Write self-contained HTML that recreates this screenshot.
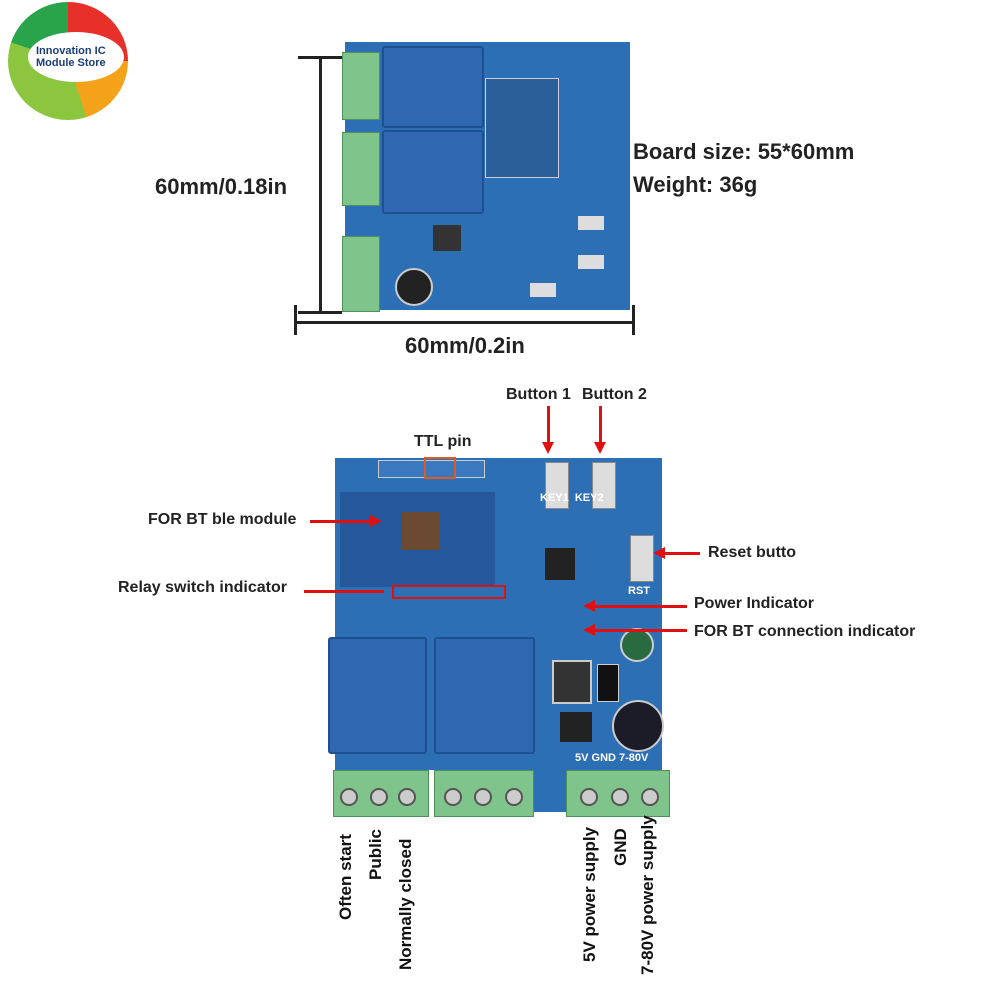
<!DOCTYPE html><html><head><style>
body{margin:0;width:1000px;height:1000px;background:#fff;position:relative;overflow:hidden;font-family:"Liberation Sans",sans-serif}
.a{position:absolute}
.t{position:absolute;font-weight:bold;color:#222;white-space:nowrap}
.blue{background:#2d6fb5}
.relay{position:absolute;background:#2f67b0;border:2px solid #1e4f8e;border-radius:3px;color:#dde;font-size:9px}
.term{position:absolute;background:#7fc48a;border:1px solid #4f8f5a}
.scr{position:absolute;width:18px;height:18px;border-radius:50%;background:#ccc;border:2px solid #555;box-sizing:border-box}
.rot{position:absolute;transform:rotate(-90deg);transform-origin:left top;font-weight:bold;font-size:17px;color:#111;white-space:nowrap}
.ar{position:absolute;background:#e01010}
.hd{position:absolute;width:0;height:0}
.dn{border-left:6px solid transparent;border-right:6px solid transparent;border-top:12px solid #e01010}
.rt{border-top:6px solid transparent;border-bottom:6px solid transparent;border-left:12px solid #e01010}
.lt{border-top:6px solid transparent;border-bottom:6px solid transparent;border-right:12px solid #e01010}
</style></head><body>
<!-- logo -->
<div class="a" style="left:8px;top:2px;width:120px;height:118px;border-radius:50%;background:conic-gradient(#e8302a 0 25%,#f3a21a 25% 45%,#8cc63f 45% 80%,#2aa44a 80% 100%)"></div>
<div class="a" style="left:28px;top:32px;width:96px;height:50px;border-radius:50%;background:#fff"></div>
<div class="t" style="left:36px;top:45px;font-size:11px;color:#1a3d7c">Innovation IC<br>Module Store</div>

<!-- top board -->
<div class="a blue" style="left:345px;top:42px;width:285px;height:268px"></div>
<div class="term" style="left:342px;top:52px;width:36px;height:66px"></div>
<div class="term" style="left:342px;top:132px;width:36px;height:72px"></div>
<div class="term" style="left:342px;top:236px;width:36px;height:74px"></div>
<div class="relay" style="left:382px;top:46px;width:98px;height:78px"></div>
<div class="relay" style="left:382px;top:130px;width:98px;height:80px"></div>
<div class="a" style="left:485px;top:78px;width:72px;height:98px;background:#2a5f9a;border:1px solid #ccd"></div>
<div class="a" style="left:395px;top:268px;width:34px;height:34px;border-radius:50%;background:#222;border:2px solid #ccc"></div>
<div class="a" style="left:433px;top:225px;width:28px;height:26px;background:#333"></div>
<div class="a" style="left:578px;top:216px;width:26px;height:14px;background:#ddd"></div>
<div class="a" style="left:578px;top:255px;width:26px;height:14px;background:#ddd"></div>
<div class="a" style="left:530px;top:283px;width:26px;height:14px;background:#ddd"></div>
<!-- dimension lines -->
<div class="a" style="left:319px;top:57px;width:3px;height:256px;background:#222"></div>
<div class="a" style="left:298px;top:56px;width:44px;height:3px;background:#222"></div>
<div class="a" style="left:298px;top:311px;width:44px;height:3px;background:#222"></div>
<div class="a" style="left:295px;top:321px;width:338px;height:3px;background:#222"></div>
<div class="a" style="left:294px;top:305px;width:3px;height:30px;background:#222"></div>
<div class="a" style="left:632px;top:305px;width:3px;height:30px;background:#222"></div>
<div class="t" style="left:155px;top:174px;font-size:22px">60mm/0.18in</div>
<div class="t" style="left:405px;top:333px;font-size:22px">60mm/0.2in</div>
<div class="t" style="left:633px;top:139px;font-size:22px">Board size: 55*60mm</div>
<div class="t" style="left:633px;top:172px;font-size:22px">Weight: 36g</div>

<!-- bottom board -->
<div class="a blue" style="left:335px;top:458px;width:327px;height:312px"></div>
<div class="a blue" style="left:532px;top:760px;width:34px;height:52px"></div>
<div class="a" style="left:378px;top:460px;width:105px;height:16px;background:#3a78c0;border:1px solid #ccc"></div>
<div class="a" style="left:424px;top:457px;width:28px;height:18px;border:2px solid #e05a20"></div>
<div class="a" style="left:340px;top:492px;width:155px;height:95px;background:#25589a"></div>
<div class="a" style="left:402px;top:512px;width:38px;height:38px;background:#6a4a30"></div>
<div class="a" style="left:545px;top:462px;width:22px;height:45px;background:#ddd;border:1px solid #888"></div>
<div class="a" style="left:592px;top:462px;width:22px;height:45px;background:#ddd;border:1px solid #888"></div>
<div class="a" style="left:630px;top:535px;width:22px;height:45px;background:#ddd;border:1px solid #888"></div>
<div class="a" style="left:545px;top:548px;width:30px;height:32px;background:#222"></div>
<div class="a" style="left:620px;top:628px;width:30px;height:30px;border-radius:50%;background:#2a6a40;border:2px solid #ccc"></div>
<div class="a" style="left:552px;top:660px;width:36px;height:40px;background:#333;border:2px solid #ccc"></div>
<div class="a" style="left:597px;top:664px;width:20px;height:36px;background:#111;border:1px solid #ccc"></div>
<div class="a" style="left:612px;top:700px;width:48px;height:48px;border-radius:50%;background:#1c1c28;border:2px solid #ccc"></div>
<div class="a" style="left:560px;top:712px;width:32px;height:30px;background:#222"></div>
<div class="relay" style="left:328px;top:637px;width:95px;height:113px"></div>
<div class="relay" style="left:434px;top:637px;width:97px;height:113px"></div>
<div class="term" style="left:333px;top:770px;width:94px;height:45px"></div>
<div class="term" style="left:434px;top:770px;width:98px;height:45px"></div>
<div class="term" style="left:566px;top:770px;width:102px;height:45px"></div>
<div class="scr" style="left:340px;top:788px"></div><div class="scr" style="left:370px;top:788px"></div><div class="scr" style="left:398px;top:788px"></div>
<div class="scr" style="left:444px;top:788px"></div><div class="scr" style="left:474px;top:788px"></div><div class="scr" style="left:505px;top:788px"></div>
<div class="scr" style="left:580px;top:788px"></div><div class="scr" style="left:611px;top:788px"></div><div class="scr" style="left:641px;top:788px"></div>
<div class="t" style="left:575px;top:752px;font-size:11px;color:#fff">5V GND 7-80V</div>
<div class="t" style="left:540px;top:492px;font-size:11px;color:#fff">KEY1&nbsp;&nbsp;KEY2</div>
<div class="t" style="left:628px;top:585px;font-size:11px;color:#fff">RST</div>

<!-- labels -->
<div class="t" style="left:506px;top:386px;font-size:16px">Button 1</div>
<div class="t" style="left:582px;top:386px;font-size:16px">Button 2</div>
<div class="t" style="left:414px;top:433px;font-size:16px">TTL pin</div>
<div class="t" style="left:148px;top:511px;font-size:16px">FOR BT ble module</div>
<div class="t" style="left:118px;top:579px;font-size:16px">Relay switch indicator</div>
<div class="t" style="left:708px;top:544px;font-size:16px">Reset butto</div>
<div class="t" style="left:694px;top:595px;font-size:16px">Power Indicator</div>
<div class="t" style="left:694px;top:623px;font-size:16px">FOR BT connection indicator</div>
<div class="ar" style="left:547px;top:406px;width:3px;height:38px"></div><div class="hd dn" style="left:542px;top:442px"></div>
<div class="ar" style="left:599px;top:406px;width:3px;height:38px"></div><div class="hd dn" style="left:594px;top:442px"></div>
<div class="ar" style="left:310px;top:520px;width:62px;height:3px"></div><div class="hd rt" style="left:370px;top:515px"></div>
<div class="ar" style="left:304px;top:590px;width:80px;height:3px"></div>
<div class="a" style="left:392px;top:585px;width:110px;height:10px;border:2px solid #e01010"></div>
<div class="ar" style="left:664px;top:552px;width:36px;height:3px"></div><div class="hd lt" style="left:653px;top:547px"></div>
<div class="ar" style="left:594px;top:605px;width:93px;height:3px"></div><div class="hd lt" style="left:583px;top:600px"></div>
<div class="ar" style="left:594px;top:629px;width:93px;height:3px"></div><div class="hd lt" style="left:583px;top:624px"></div>

<div class="rot" style="left:336px;top:920px">Often start</div>
<div class="rot" style="left:366px;top:880px">Public</div>
<div class="rot" style="left:396px;top:970px">Normally closed</div>
<div class="rot" style="left:580px;top:962px">5V power supply</div>
<div class="rot" style="left:611px;top:866px">GND</div>
<div class="rot" style="left:638px;top:975px">7-80V power supply</div>
</body></html>
